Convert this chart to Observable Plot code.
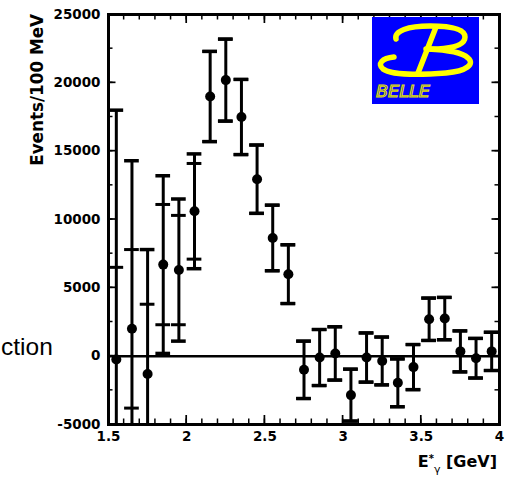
<!DOCTYPE html>
<html><head><meta charset="utf-8">
<script src="https://cdn.jsdelivr.net/npm/d3@7"></script>
<script src="https://cdn.jsdelivr.net/npm/@observablehq/plot@0.6"></script>
<style>
body{margin:0;background:#fff;}
#wrap{position:relative;width:510px;height:483px;overflow:hidden;background:#fff;}
#side{position:absolute;left:1px;top:332px;font:24.5px "Liberation Sans",Arial,sans-serif;color:#000;white-space:nowrap;line-height:30px;}
</style></head><body><div id="wrap"><div id="side">ction</div></div><script>
const energy = [1.55,1.65,1.75,1.85,1.95,2.05,2.15,2.25,2.35,2.45,2.55,2.65,2.75,2.85,2.95,3.05,3.15,3.25,3.35,3.45,3.55,3.65,3.75,3.85,3.95];
const events = [-250,2000,-1300,6700,6300,10600,19000,20200,17500,12950,8650,6000,-1000,-100,200,-2850,-100,-350,-1950,-800,2700,2750,350,-150,350];
const statErr = [6750,5800,5100,4400,4000,3500,3300,3000,2750,2500,2400,2150,2100,2050,1950,1900,1800,1750,1750,1650,1550,1550,1500,1450,1400];
const totErr = [18250,12300,9100,6500,5200,4200,3300,3000,2750,2500,2400,2150,2100,2050,1950,1900,1800,1750,1750,1650,1550,1550,1500,1450,1400];
const xTicks = [1.5,2,2.5,3,3.5,4];
const xTickLabels = ["1.5","2","2.5","3","3.5","4"];
const yTicks = [-5000,0,5000,10000,15000,20000,25000];
const yTickLabels = ["-5000","0","5000","10000","15000","20000","25000"];
const xMinor = d3.range(15, 41).map(d => d / 10);
const yMinor = d3.range(-5000, 25001, 2500);
const yLabel = "Events/100 MeV";

const data = energy.map((e, i) => ({e, y: events[i], stat: statErr[i], tot: totErr[i]}));
const hw = 0.047;
const font = "'DejaVu Sans', sans-serif";
const txt = {fontFamily: font, fontWeight: "bold", fontSize: 13.5, fill: "#000"};

const chart = Plot.plot({
  width: 510, height: 483,
  marginLeft: 108, marginTop: 14, marginRight: 11, marginBottom: 59,
  style: {background: "transparent", color: "#000", fontFamily: font},
  x: {domain: [1.5, 4], label: null},
  y: {domain: [-5000, 25000], label: null},
  marks: [
    Plot.ruleY([0], {strokeWidth: 2.5}),
    Plot.ruleX(data, {x: "e", y1: d => d.y - d.tot, y2: d => d.y + d.tot, strokeWidth: 3, clip: true}),
    Plot.ruleY(data, {y: d => d.y + d.tot, x1: d => d.e - hw, x2: d => d.e + hw, strokeWidth: 3.5, clip: true}),
    Plot.ruleY(data, {y: d => d.y - d.tot, x1: d => d.e - hw, x2: d => d.e + hw, strokeWidth: 3.5, clip: true}),
    Plot.ruleY(data, {y: d => d.y + d.stat, x1: d => d.e - hw, x2: d => d.e + hw, strokeWidth: 3, clip: true}),
    Plot.ruleY(data, {y: d => d.y - d.stat, x1: d => d.e - hw, x2: d => d.e + hw, strokeWidth: 3, clip: true}),
    Plot.dot(data, {x: "e", y: "y", r: 5, fill: "#000", stroke: null, clip: true}),
    Plot.axisX(xTicks, {anchor: "bottom", tickSize: 0, tickPadding: 7, tickFormat: (d, i) => xTickLabels[i], label: null, ...txt}),
    Plot.axisY(yTicks, {anchor: "left", tickSize: 0, tickPadding: 8, tickFormat: (d, i) => yTickLabels[i], label: null, ...txt}),
    Plot.frame({strokeWidth: 3})
  ]
});

const svg = d3.select(chart);

// inward ticks on all four sides, positioned through the plot's own scales
const sx = chart.scale("x"), sy = chart.scale("y");
const [xL, xR] = sx.range;
const [yB, yT] = sy.range;
const tg = svg.append("g").attr("stroke", "#000").attr("fill", "none");
function ticksX(vals, len, sw) {
  for (const v of vals) {
    const x = sx.apply(v);
    tg.append("line").attr("x1", x).attr("x2", x).attr("y1", yB).attr("y2", yB - len).attr("stroke-width", sw);
    tg.append("line").attr("x1", x).attr("x2", x).attr("y1", yT).attr("y2", yT + len).attr("stroke-width", sw);
  }
}
function ticksY(vals, len, sw) {
  for (const v of vals) {
    const y = sy.apply(v);
    tg.append("line").attr("y1", y).attr("y2", y).attr("x1", xL).attr("x2", xL + len).attr("stroke-width", sw);
    tg.append("line").attr("y1", y).attr("y2", y).attr("x1", xR).attr("x2", xR - len).attr("stroke-width", sw);
  }
}
ticksX(xMinor, 5.5, 1.5);
ticksX(xTicks, 9, 1.7);
ticksY(yMinor, 4.5, 1.5);
ticksY(yTicks, 7.5, 1.7);

// y axis title
svg.append("text")
  .attr("transform", "translate(43,14) rotate(-90)")
  .attr("text-anchor", "end")
  .attr("font-family", font).attr("font-weight", "bold").attr("font-size", 16.8)
  .attr("fill", "#000")
  .text(yLabel);
// x axis title with super/subscripts
const xt = svg.append("text")
  .attr("x", 497).attr("y", 467)
  .attr("text-anchor", "end")
  .attr("font-family", font).attr("font-weight", "bold").attr("font-size", 16)
  .attr("fill", "#000");
xt.append("tspan").text("E");
xt.append("tspan").attr("font-size", 10).attr("dy", -5).text("*");
xt.append("tspan").attr("font-size", 11).attr("font-weight", "normal").attr("dy", 11).text("γ");
xt.append("tspan").attr("dy", -6).text(" [GeV]");

// Belle logo
const g = svg.append("g").attr("transform", "translate(372,17)");
g.append("rect").attr("width", 107).attr("height", 87).attr("fill", "#0000ff");
const yel = "#ffff00";
g.append("path")
  .attr("d", "M24,22 C22,14 36,9 58,9 C80,9 93,12 93,20 C93,28 82,31 66,32 L54,32")
  .attr("fill", "none").attr("stroke", yel).attr("stroke-width", 5.5).attr("stroke-linecap", "round");
g.append("path")
  .attr("d", "M22,40 C10,41 5,47 11,52 C19,58 48,58 74,56 C95,54 103,47 96,41 C90,35 76,33 56,32")
  .attr("fill", "none").attr("stroke", yel).attr("stroke-width", 5.5).attr("stroke-linecap", "round");
g.append("path")
  .attr("d", "M64,10 L46,56")
  .attr("fill", "none").attr("stroke", yel).attr("stroke-width", 5.5).attr("stroke-linecap", "round");
g.append("text")
  .attr("x", 31).attr("y", 80)
  .attr("textLength", 54).attr("lengthAdjust", "spacingAndGlyphs")
  .attr("font-family", font).attr("font-style", "italic").attr("font-size", 15)
  .attr("fill", "none").attr("stroke", "#e0e000").attr("stroke-width", 1)
  .text("BELLE");

document.getElementById("wrap").prepend(chart);
</script></body></html>
